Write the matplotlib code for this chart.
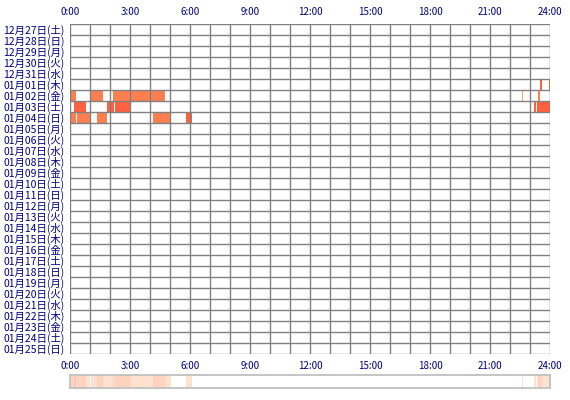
import numpy as np
import matplotlib
matplotlib.use('Agg')
import matplotlib.pyplot as plt
from matplotlib.colors import ListedColormap

plt.rcParams['font.family'] = ['Noto Sans CJK JP', 'DejaVu Sans']

# row labels (top to bottom)
days = ['12月27日(土)', '12月28日(日)', '12月29日(月)', '12月30日(火)', '12月31日(水)',
        '01月01日(木)', '01月02日(金)', '01月03日(土)', '01月04日(日)', '01月05日(月)',
        '01月06日(火)', '01月07日(水)', '01月08日(木)', '01月09日(金)', '01月10日(土)',
        '01月11日(日)', '01月12日(月)', '01月13日(火)', '01月14日(水)', '01月15日(木)',
        '01月16日(金)', '01月17日(土)', '01月18日(日)', '01月19日(月)', '01月20日(火)',
        '01月21日(水)', '01月22日(木)', '01月23日(金)', '01月24日(土)', '01月25日(日)']

hour_ticks = [0, 3, 6, 9, 12, 15, 18, 21, 24]
hour_labels = ['0:00', '3:00', '6:00', '9:00', '12:00', '15:00', '18:00', '21:00', '24:00']

# activity segments: day index, start hour, end hour, level
seg_day   = [5, 5,
             6, 6, 6, 6, 6,
             7, 7, 7, 7, 7,
             8, 8, 8, 8, 8]
seg_start = [23.50, 23.95,
             0.05, 1.05, 2.17, 22.60, 23.40,
             0.20, 1.87, 2.27, 23.20, 23.37,
             0.05, 0.37, 1.35, 4.15, 5.80]
seg_end   = [23.60, 24.00,
             0.30, 1.63, 4.75, 22.65, 23.50,
             0.80, 2.20, 3.05, 23.30, 24.00,
             0.28, 1.00, 1.83, 5.05, 6.08]
seg_level = [2, 2,
             1, 1, 1, 0, 1,
             2, 2, 2, 2, 2,
             1, 1, 1, 1, 2]

level_colors = ['#FFA070', '#FF7F50', '#FF6040']
grid_c = '#808080'
navy = '#000080'

fig = plt.figure(figsize=(5.7, 4.0), dpi=100)
W, H = 570, 400
ax = fig.add_axes([70 / W, 1 - 354 / H, 480 / W, 330 / H])

n = len(days)
for d, s, e, lv in zip(seg_day, seg_start, seg_end, seg_level):
    ax.barh(d, e - s, left=s, height=1.0, color=level_colors[lv], zorder=1)

for h in range(25):
    ax.axvline(h, color=grid_c, lw=1.0, zorder=3)
for r in range(n + 1):
    ax.axhline(r - 0.5, color=grid_c, lw=1.0, zorder=3)

ax.set_xlim(0, 24)
ax.set_ylim(n - 0.5, -0.5)
ax.set_yticks(range(n))
ax.set_yticklabels(days, fontsize=7.5, color=navy)
ax.set_xticks(hour_ticks)
ax.set_xticklabels(hour_labels, fontsize=7, color=navy)
ax.tick_params(axis='x', length=0, top=True, labeltop=True, pad=5)
ax.tick_params(axis='y', length=0, pad=4)
for sp in ax.spines.values():
    sp.set_visible(False)

# summary strip: how many days were active in each minute
minutes = np.zeros(24 * 60)
for s, e in zip(seg_start, seg_end):
    minutes[int(round(s * 60)):int(round(e * 60))] += 1
cmap = ListedColormap(['#FFFFFF', '#FFE1D0', '#FFD3C0', '#FFC8B2'])
hx = fig.add_axes([70 / W, 1 - 388 / H, 480 / W, 13 / H])
hx.imshow(minutes[None, :], aspect='auto', cmap=cmap, vmin=0, vmax=3,
          interpolation='nearest', extent=[0, 24, 0, 1])
hx.set_xticks([])
hx.set_yticks([])
for sp in hx.spines.values():
    sp.set_color('#C0C0C0')
    sp.set_linewidth(1.3)

fig.savefig('out.png', dpi=100)
